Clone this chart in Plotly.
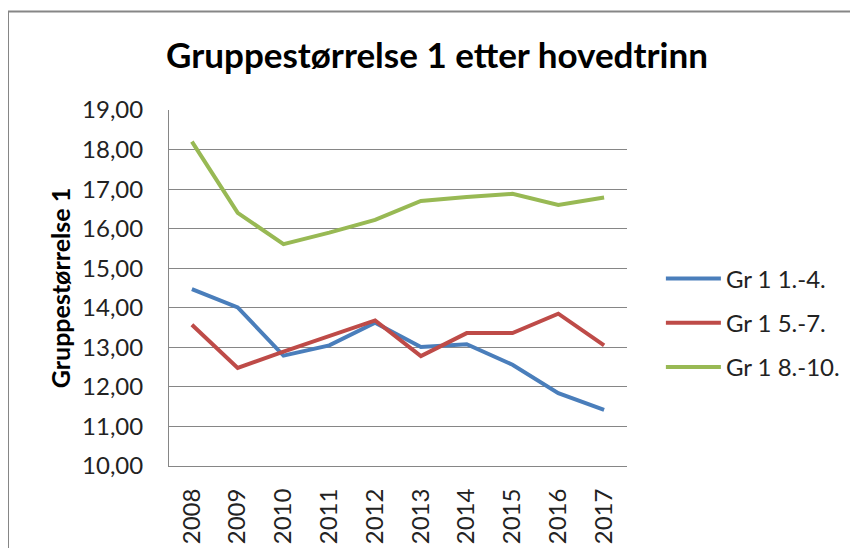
import plotly.graph_objects as go

years = ["2008", "2009", "2010", "2011", "2012", "2013", "2014", "2015", "2016", "2017"]
gr_1_4 = [14.47, 14.01, 12.79, 13.05, 13.62, 13.01, 13.08, 12.56, 11.84, 11.42]
gr_5_7 = [13.57, 12.48, 12.89, 13.28, 13.68, 12.78, 13.36, 13.36, 13.85, 13.05]
gr_8_10 = [18.20, 16.40, 15.61, 15.90, 16.22, 16.70, 16.80, 16.88, 16.60, 16.79]
series_names = ["Gr 1 1.-4.", "Gr 1 5.-7.", "Gr 1 8.-10."]
y_ticks = [10, 11, 12, 13, 14, 15, 16, 17, 18, 19]

_BLUE  = "#4A7EBB"
_RED   = "#BE4B48"
_GREEN = "#98B954"
_GRID  = "#868686"
_TEXT  = "#222222"
_FONT  = "Lato"

fig = go.Figure()
for name, vals, col in zip(series_names, [gr_1_4, gr_5_7, gr_8_10], [_BLUE, _RED, _GREEN]):
    fig.add_trace(go.Scatter(
        x=years, y=vals,
        mode="lines",
        name=name,
        legendgroup=name,
        line=dict(color=col, width=4),
    ))

# chart frame (Excel-style border)
fig.add_shape(
    type="rect", xref="paper", yref="paper",
    x0=-0.3515, x1=2.0, y0=-1.0, y1=1.2765,
    line=dict(color=_GRID, width=2),
    fillcolor="rgba(0,0,0,0)",
    layer="below",
)

fig.update_layout(
    width=858, height=548,
    paper_bgcolor="white",
    plot_bgcolor="white",
    separators=", ",
    font=dict(family=_FONT, color=_TEXT, size=24),
    margin=dict(l=161, r=239, t=102, b=88),
    title=dict(
        text="<b>Gruppestørrelse 1 etter hovedtrinn</b>",
        x=429 / 858, xanchor="center",
        y=1 - 48 / 548, yanchor="middle", yref="container",
        font=dict(family=_FONT, size=35, color="black"),
    ),
    legend=dict(
        x=1.074, xanchor="left",
        y=0.402, yanchor="middle",
        tracegroupgap=10,
        itemwidth=55,
        font=dict(family=_FONT, size=24, color=_TEXT),
        bgcolor="rgba(0,0,0,0)",
    ),
    xaxis=dict(
        type="category",
        range=[-0.5, 9.5],
        showgrid=False,
        showline=True, linecolor=_GRID, linewidth=1,
        tickangle=-90,
        ticks="",
        ticklabelstandoff=12,
        tickfont=dict(family=_FONT, size=24, color=_TEXT),
    ),
    yaxis=dict(
        range=[10, 19],
        tickvals=y_ticks,
        tickformat=".2f",
        showgrid=True, gridcolor=_GRID, gridwidth=1,
        showline=True, linecolor=_GRID, linewidth=1,
        zeroline=False,
        ticks="",
        ticklabelstandoff=20,
        tickfont=dict(family=_FONT, size=24, color=_TEXT),
        title=dict(
            text="<b>Gruppestørrelse 1</b>",
            font=dict(family=_FONT, size=25, color="black"),
            standoff=4,
        ),
    ),
)

fig.write_html("out.html")
